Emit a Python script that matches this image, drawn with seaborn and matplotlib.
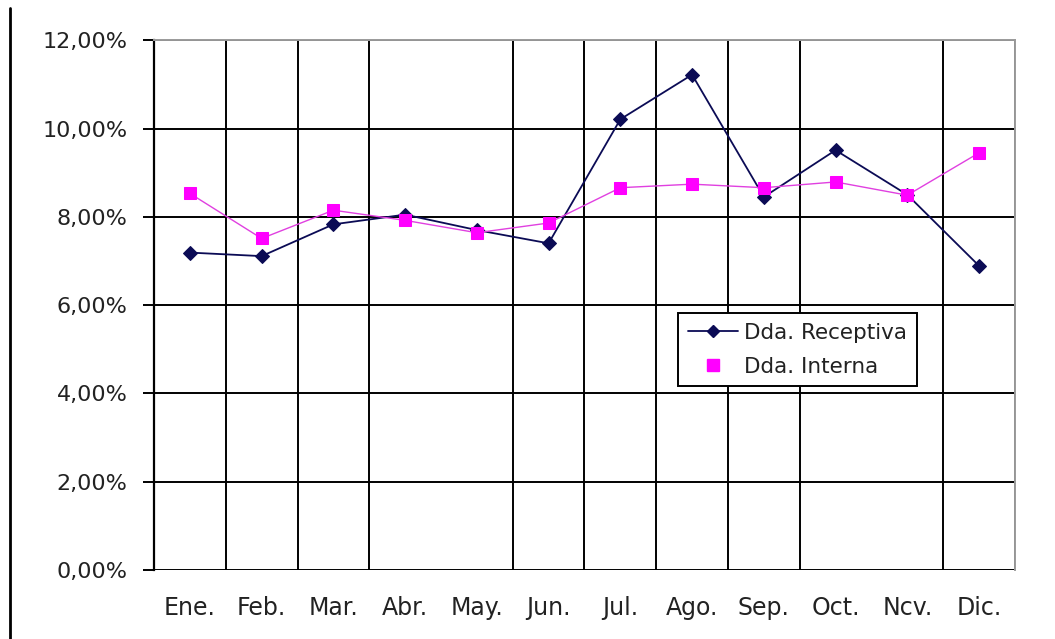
import matplotlib
matplotlib.use('Agg')
import matplotlib.pyplot as plt
import pandas as pd
import seaborn as sns
from matplotlib.lines import Line2D
from matplotlib.ticker import FuncFormatter

# Data (in %)
months = ['Ene.', 'Feb.', 'Mar.', 'Abr.', 'May.', 'Jun.',
          'Jul.', 'Ago.', 'Sep.', 'Oct.', 'Ncv.', 'Dic.']
receptiva = [7.19, 7.11, 7.83, 8.05, 7.70, 7.40,
             10.21, 11.22, 8.45, 9.51, 8.50, 6.89]
interna = [8.53, 7.51, 8.15, 7.92, 7.64, 7.86,
           8.66, 8.74, 8.66, 8.79, 8.49, 9.45]
y_ticks = [0, 2, 4, 6, 8, 10, 12]

df = pd.DataFrame({'mes': months, 'receptiva': receptiva, 'interna': interna})

sns.set_style('white')
plt.rcParams['font.family'] = ['DejaVu Sans']

fig = plt.figure(figsize=(10.55, 6.39), dpi=100)
ax = fig.add_axes([0.146, 0.108, 0.816, 0.829])

navy = '#0b0b55'
magenta = '#ff00ff'

sns.lineplot(data=df, x='mes', y='receptiva', ax=ax, color=navy, lw=1.3,
             marker='D', markersize=7, markeredgecolor=navy, zorder=3)
sns.lineplot(data=df, x='mes', y='interna', ax=ax, color='#e040e0', lw=1.0,
             marker='s', markersize=8.5, markerfacecolor=magenta,
             markeredgecolor=magenta, zorder=4)

ax.set_xlim(-0.5, len(months) - 0.5)
ax.set_ylim(0, 12)
ax.set_yticks(y_ticks)
ax.yaxis.set_major_formatter(FuncFormatter(lambda v, p: f'{v:.2f}%'.replace('.', ',')))
ax.set_xlabel('')
ax.set_ylabel('')

# vertical gridlines sit between categories (two are missing in the original)
bounds = [i + 0.5 for i in range(len(months) - 1) if i not in (3, 9)]
ax.set_xticks([-0.5] + bounds + [len(months) - 0.5], minor=True)
ax.grid(True, which='minor', axis='x', color='black', lw=1.4)
ax.grid(True, which='major', axis='y', color='black', lw=1.4)
ax.set_axisbelow(True)

ax.tick_params(axis='x', which='major', length=0, labelsize=17, pad=19,
               labelcolor='#222222')
ax.tick_params(axis='x', which='minor', length=7, width=1.4, color='black', direction='out')
ax.tick_params(axis='y', which='major', length=8, width=1.4, color='black',
               direction='out', labelsize=16, pad=11, left=True, labelcolor='#222222')

for s in ['top', 'right']:
    ax.spines[s].set_color('#9a9a9a')
    ax.spines[s].set_linewidth(1.4)
ax.spines['left'].set_color('black')
ax.spines['left'].set_linewidth(1.6)
ax.spines['bottom'].set_visible(False)

handles = [
    Line2D([], [], color=navy, lw=1.3, marker='D', markersize=6),
    Line2D([], [], color=magenta, lw=0, marker='s', markersize=8),
]
leg = ax.legend(handles, ['Dda. Receptiva', 'Dda. Interna'],
                loc='upper left', bbox_to_anchor=(0.609, 0.485),
                borderaxespad=0, fontsize=15.5, frameon=True, fancybox=False,
                handlelength=2.3, handletextpad=0.3, labelspacing=0.65,
                borderpad=0.45, labelcolor='#222222')
leg.get_frame().set_edgecolor('black')
leg.get_frame().set_linewidth(1.4)
leg.get_frame().set_facecolor('white')
leg.get_frame().set_alpha(1)

# frame line on the left edge of the picture
fig.add_artist(Line2D([10 / 1055, 10 / 1055], [0, 1 - 8 / 639],
                      transform=fig.transFigure, color='black', lw=2))

fig.savefig('out.png', dpi=100)
